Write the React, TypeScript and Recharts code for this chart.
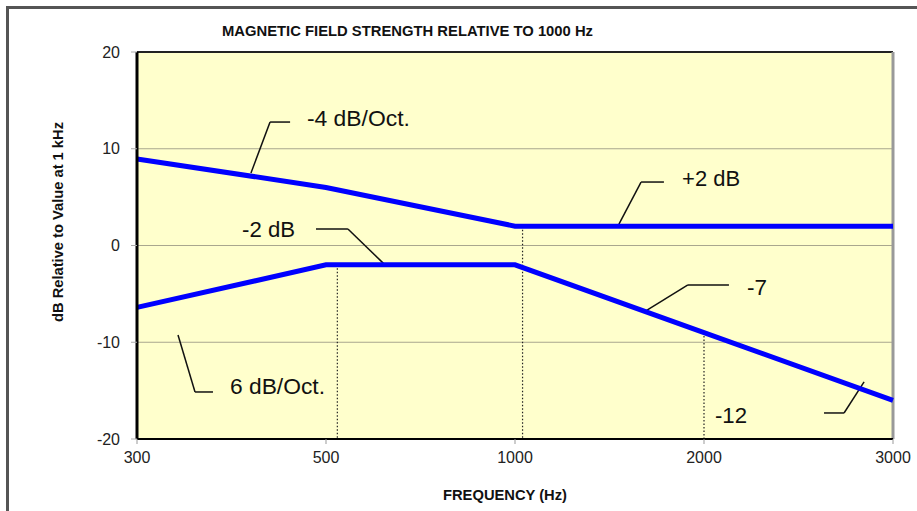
import React from 'react';
import { LineChart, Line, XAxis, YAxis, CartesianGrid, ReferenceLine, ReferenceDot } from 'recharts';

// ---- data ----
const FREQS = ['300', '500', '1000', '2000', '3000'];
const X_INDEX = [0, 1, 2, 3, 4];
const UPPER = [8.95, 6.0, 2.0, 2.0, 2.0];
const LOWER = [-6.4, -2.0, -2.0, -9.0, -16.0];
const Y_TICKS = [-20, -10, 0, 10, 20];

const DATA = X_INDEX.map((i) => ({ i, upper: UPPER[i], lower: LOWER[i] }));

// annotation geometry in data coordinates (x = category index, y = dB)
const DROP_LINES = [
  { x: 1.06, y1: -2, y2: -20 },
  { x: 2.04, y1: 2, y2: -20 },
  { x: 3.0, y1: -9, y2: -20 },
];

const LEADERS = [
  [{ x: 0.81, y: 12.76 }, { x: 0.704, y: 12.76 }, { x: 0.603, y: 7.5 }],
  [{ x: 0.947, y: 1.71 }, { x: 1.116, y: 1.71 }, { x: 1.312, y: -2.0 }],
  [{ x: 2.788, y: 6.56 }, { x: 2.667, y: 6.56 }, { x: 2.55, y: 2.2 }],
  [{ x: 3.132, y: -4.08 }, { x: 2.915, y: -4.08 }, { x: 2.688, y: -6.8 }],
  [{ x: 3.635, y: -17.31 }, { x: 3.741, y: -17.31 }, { x: 3.847, y: -14.1 }],
  [{ x: 0.402, y: -15.14 }, { x: 0.307, y: -15.14 }, { x: 0.217, y: -9.25 }],
];

const NOTES = [
  { text: '-4 dB/Oct.', x: 0.899, y: 12.4, w: 103 },
  { text: '-2 dB', x: 0.556, y: 0.88, w: 53 },
  { text: '+2 dB', x: 2.884, y: 6.15, w: 58 },
  { text: '-7', x: 3.228, y: -5.12, w: 20 },
  { text: '-12', x: 3.058, y: -18.3, w: 32 },
  { text: '6 dB/Oct.', x: 0.492, y: -15.35, w: 95 },
];

const FONT = '"Liberation Sans", Arial, Helvetica, sans-serif';

export default function App() {
  const segs: { a: { x: number; y: number }; b: { x: number; y: number } }[] = [];
  LEADERS.forEach((pts) => {
    for (let k = 0; k < pts.length - 1; k++) segs.push({ a: pts[k], b: pts[k + 1] });
  });

  return (
    <div
      style={{
        position: 'absolute',
        left: 0,
        top: 0,
        width: 917,
        height: 511,
        overflow: 'hidden',
        background: '#ffffff',
      }}
    >
      <div
        style={{
          position: 'absolute',
          left: 6,
          top: 6,
          width: 1000,
          height: 1000,
          borderLeft: '3px solid #555555',
          borderTop: '3px solid #555555',
        }}
      />
      <div style={{ position: 'absolute', left: 0, top: 0 }}>
        <LineChart width={917} height={511} data={DATA} margin={{ top: 52, right: 24, bottom: 0, left: 0 }}>
          <CartesianGrid
            vertical={false}
            horizontal={true}
            fill="#FFFFCC"
            stroke="#a9a78e"
            strokeWidth={1}
          />
          <XAxis
            type="number"
            dataKey="i"
            domain={[0, 4]}
            ticks={X_INDEX}
            interval={0}
            height={72}
            tickFormatter={(v: number) => FREQS[v]}
            axisLine={{ stroke: '#000', strokeWidth: 2 }}
            tickLine={{ stroke: '#999' }}
            tickSize={5}
            tickMargin={8}
            tick={{ fontSize: 16, fill: '#222', fontFamily: FONT }}
          />
          <YAxis
            type="number"
            domain={[-20, 20]}
            ticks={Y_TICKS}
            interval={0}
            width={137}
            axisLine={{ stroke: '#000', strokeWidth: 3 }}
            tickLine={{ stroke: '#aaa' }}
            tickSize={6}
            tickMargin={11}
            tick={{ fontSize: 16, fill: '#222', fontFamily: FONT }}
          />
          <ReferenceLine y={20} stroke="#222" strokeWidth={2} />
          <ReferenceLine x={4} stroke="#999" strokeWidth={3} />
          {DROP_LINES.map((d, k) => (
            <ReferenceLine
              key={'drop' + k}
              segment={[
                { x: d.x, y: d.y1 },
                { x: d.x, y: d.y2 },
              ]}
              stroke="#222"
              strokeWidth={1.2}
              strokeDasharray="1.5 2"
            />
          ))}
          {segs.map((s, k) => (
            <ReferenceLine
              key={'lead' + k}
              segment={[s.a, s.b]}
              stroke="#111"
              strokeWidth={1.5}
            />
          ))}
          {NOTES.map((n, k) => (
            <ReferenceDot
              key={'note' + k}
              x={n.x}
              y={n.y}
              r={0}
              shape={(p: any) => (
                <text
                  x={p.cx}
                  y={p.cy}
                  fontSize={22}
                  fontFamily={FONT}
                  fill="#111"
                  textAnchor="start"
                  textLength={n.w}
                  lengthAdjust="spacingAndGlyphs"
                >
                  {n.text}
                </text>
              )}
            />
          ))}
          <Line
            type="linear"
            dataKey="upper"
            stroke="#0000FF"
            strokeWidth={5}
            dot={false}
            activeDot={false}
            isAnimationActive={false}
          />
          <Line
            type="linear"
            dataKey="lower"
            stroke="#0000FF"
            strokeWidth={5}
            dot={false}
            activeDot={false}
            isAnimationActive={false}
          />
        </LineChart>
      </div>
      <svg
        width={917}
        height={511}
        style={{ position: 'absolute', left: 0, top: 0, pointerEvents: 'none' }}
      >
        <text
          x={407.5}
          y={36}
          textAnchor="middle"
          fontFamily={FONT}
          fontWeight="bold"
          fontSize={14.5}
          fill="#111"
          textLength={371}
          lengthAdjust="spacingAndGlyphs"
        >
          MAGNETIC FIELD STRENGTH RELATIVE TO 1000 Hz
        </text>
        <text
          x={505}
          y={500}
          textAnchor="middle"
          fontFamily={FONT}
          fontWeight="bold"
          fontSize={14.5}
          fill="#111"
          textLength={124}
          lengthAdjust="spacingAndGlyphs"
        >
          FREQUENCY (Hz)
        </text>
        <text
          transform="translate(63,222) rotate(-90)"
          x={0}
          y={0}
          textAnchor="middle"
          fontFamily={FONT}
          fontWeight="bold"
          fontSize={14.5}
          fill="#111"
          textLength={200}
          lengthAdjust="spacingAndGlyphs"
        >
          dB Relative to Value at 1 kHz
        </text>
      </svg>
    </div>
  );
}
